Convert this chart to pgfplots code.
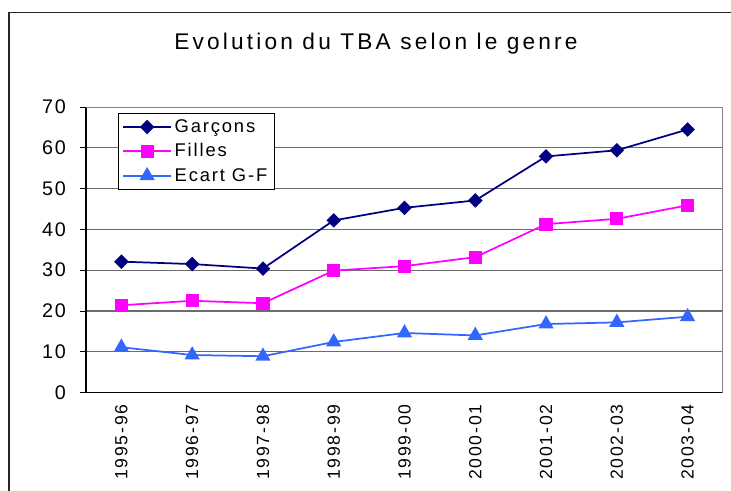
\documentclass[border=0pt]{standalone}
\usepackage{pgfplots}
\pgfplotsset{compat=1.18}
\usepackage{fontspec}
\setmainfont{Liberation Sans}[LetterSpace=10]
\newfontfamily\titlefont{Liberation Sans}[LetterSpace=14]
\definecolor{garc}{RGB}{0,0,128}
\definecolor{fil}{RGB}{255,0,255}
\definecolor{ecart}{RGB}{51,102,255}
\begin{document}
\begin{tikzpicture}[x=1pt,y=1pt]
\useasboundingbox (0,0) rectangle (548.25,367.5);
\begin{scope}
\clip (0,0) rectangle (548.25,367.5);
\draw[line width=1pt, black!85] (6.75,-20) -- (6.75,358) -- (600,358);
\end{scope}
\node[font=\titlefont\fontsize{17}{19}\selectfont] at (282,334.5) {Evolution du TBA selon le genre};
\begin{axis}[
  at={(64.5pt,73.1pt)}, anchor=south west,
  scale only axis, width=477.75pt, height=214.1pt,
  xmin=-0.5, xmax=8.5, ymin=0, ymax=70,
  ytick={0,10,...,70},
  xtick={0,...,8},
  xticklabels={1995-96,1996-97,1997-98,1998-99,1999-00,2000-01,2001-02,2002-03,2003-04},
  extra x ticks={-0.5,0.5,...,8.5}, extra x tick labels={},
  extra x tick style={major tick length=4.5pt, tick style={black, line width=0.6pt}, grid=none},
  xtick style={draw=none},
  ytick style={black, line width=0.6pt},
  tick align=outside, major tick length=4.5pt,
  ymajorgrids, grid style={gray!85!black, line width=0.8pt},
  axis line style={line width=0.9pt},
  separate axis lines,
  axis x line*=bottom, axis y line*=left,
  xticklabel style={rotate=90, anchor=east, font=\fontsize{13.2}{15}\selectfont, xshift=-1pt},
  yticklabel style={font=\fontsize{14.8}{16}\selectfont, xshift=-7pt},
  /pgf/number format/assume math mode=true,
  legend style={at={(0.05,0.979)}, anchor=north west, draw=black, line width=0.6pt, font=\fontsize{13.8}{15}\selectfont, row sep=3pt, inner xsep=3pt, inner ysep=2.5pt},
  legend cell align=left,
  legend image code/.code={\draw[mark repeat=2,mark phase=2] plot coordinates {(0pt,0pt) (18pt,0pt) (36pt,0pt)};},
]
\draw[gray, line width=0.9pt] (rel axis cs:0,1) -- (rel axis cs:1,1) -- (rel axis cs:1,0);
\addplot[garc, line width=1.3pt, mark=square*, mark size=3.2pt, mark options={rotate=45, solid, fill=garc}] coordinates {
(0,32.1) (1,31.5) (2,30.4) (3,42.2) (4,45.3) (5,47.1) (6,57.9) (7,59.4) (8,64.5)};
\addplot[fil, line width=1.3pt, mark=square*, mark size=4.3pt, mark options={solid, fill=fil}] coordinates {
(0,21.4) (1,22.5) (2,21.9) (3,29.9) (4,31.0) (5,33.2) (6,41.3) (7,42.6) (8,45.9)};
\addplot[ecart, line width=1.3pt, mark=triangle*, mark size=5.3pt, mark options={solid, fill=ecart}] coordinates {
(0,11.1) (1,9.2) (2,8.9) (3,12.4) (4,14.6) (5,14.0) (6,16.8) (7,17.2) (8,18.6)};
\legend{Garçons, Filles, Ecart G-F}
\end{axis}
\end{tikzpicture}
\end{document}
